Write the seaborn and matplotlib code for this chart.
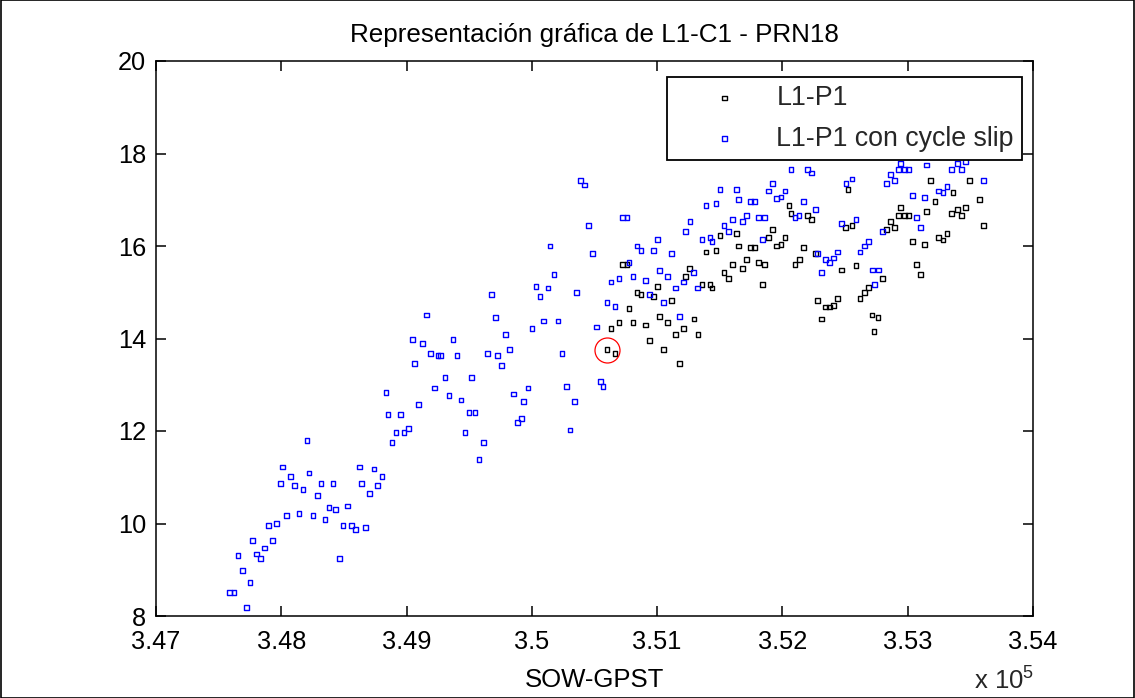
import matplotlib
matplotlib.use("Agg")
import matplotlib.pyplot as plt
import seaborn as sns
import pandas as pd
from matplotlib.ticker import FuncFormatter
from matplotlib.patches import Rectangle

# ---------------- data ----------------
x_black = [352052, 352068, 351633, 351922, 351502, 351891, 352020, 351989, 351954, 351390,
           351470, 351648, 351745, 351778, 350725, 350759, 352100, 351601, 351715, 351680,
           351810, 351859, 351259, 351228, 351533, 351569, 351358, 351422, 351438, 351843,
           351002, 350839, 350871, 350970, 351116, 350775, 351018, 351294, 350695, 350807,
           350906, 351084, 350631, 351212, 351149, 351326, 350938, 350600, 350663, 351052,
           351181,
           353183, 353493, 352524, 353362, 353218, 353572, 352199, 352231, 352944, 352925,
           352974, 353007, 353151, 353349, 353396, 353461, 353428, 353604, 352505, 352555,
           352862, 352830, 352896, 353039, 353135, 353247, 353281, 353314, 352167, 352265,
           352473, 352587, 353072, 353104, 352799, 352687, 352135, 352652, 352619, 352441,
           352281, 352345, 352378, 352409, 352313, 352715, 352763, 352731]
y_black = [16.88, 16.71, 16.27, 16.35, 16.22, 16.18, 16.18, 16.04, 16.00, 15.87,
           15.91, 16.00, 15.96, 15.96, 15.60, 15.60, 15.60, 15.60, 15.70, 15.52,
           15.65, 15.60, 15.52, 15.34, 15.43, 15.30, 15.17, 15.17, 15.09, 15.17,
           15.13, 15.00, 14.96, 14.91, 14.82, 14.64, 14.47, 14.42, 14.34, 14.34,
           14.29, 14.34, 14.21, 14.21, 14.08, 14.08, 13.95, 13.77, 13.68, 13.77,
           13.46,
           17.41, 17.41, 17.23, 17.15, 16.97, 17.01, 16.66, 16.57, 16.84, 16.66,
           16.66, 16.66, 16.75, 16.70, 16.79, 16.84, 16.66, 16.44, 16.40, 16.44,
           16.53, 16.35, 16.40, 16.09, 16.04, 16.18, 16.13, 16.27, 15.96, 15.83,
           15.48, 15.57, 15.60, 15.39, 15.30, 15.11, 15.70, 14.99, 14.86, 14.86,
           14.82, 14.68, 14.68, 14.72, 14.42, 14.51, 14.46, 14.16]

x_blue = [348205, 348012, 348221, 348075, 347995, 348107, 348173, 348317, 348413, 348289,
          348381, 348432, 348528, 348626, 348740, 348642, 348767, 348706, 348044, 348142,
          348253, 348349, 347897, 347963, 348493, 348559, 348594, 348674, 347770, 347931,
          347868, 347655, 347801, 347836, 348464, 347689, 347750, 347588, 347623, 347721,
          349160, 349709, 350095, 350209, 350001, 349788, 349046, 349127, 349371, 349823,
          349192, 349251, 349273, 349403, 349646, 349725, 350241, 349065, 349757, 349306,
          349518, 349224, 349969, 350276, 348836, 349339, 349434, 349855, 349097, 349935,
          350340, 349498, 349546, 348852, 348951, 349919, 349887, 349015, 348915, 348980,
          349466, 350304, 348884, 349613, 349578, 348804, 350390, 350421, 350454, 350145,
          350486, 350176, 350033, 350129, 350065, 350356, 349677, 352068, 351922, 351502,
          351633, 351891, 352020, 351989, 351954, 351648, 351745, 351778, 351390, 351470,
          352100, 350725, 350759, 351262, 351601, 351680, 351715, 351810, 351859, 351533,
          351228, 351569, 351422, 351358, 351438, 351843, 351002, 350839, 350871, 350970,
          351116, 350775, 351291, 351018, 351084, 350807, 350695, 350906, 350631, 351212,
          351324, 351149, 350938, 350600, 350663, 351052, 351181, 350518, 350549, 350568,
          352199, 352231, 352942, 352925, 352974, 353007, 353151, 353396, 353461, 353349,
          353428, 352862, 352830, 352896, 353607, 352508, 352555, 353039, 353135, 353247,
          353281, 353314, 352167, 352265, 352132, 353072, 353104, 352473, 352587, 352799,
          352687, 352652, 352619, 352441, 352345, 352378, 352409, 352313, 352718, 352767,
          352734, 352281]
y_blue = [11.79, 11.22, 11.09, 11.01, 10.87, 10.83, 10.74, 10.87, 10.87, 10.61,
          10.34, 10.31, 10.38, 11.22, 11.18, 10.87, 10.83, 10.65, 10.17, 10.21,
          10.17, 10.08, 9.95, 10.00, 9.95, 9.95, 9.87, 9.91, 9.64, 9.64,
          9.47, 9.30, 9.34, 9.25, 9.25, 8.99, 8.73, 8.50, 8.50, 8.19,
          14.51, 14.46, 14.38, 14.38, 14.21, 14.08, 13.98, 13.90, 13.98, 13.77,
          13.68, 13.64, 13.64, 13.64, 13.68, 13.64, 13.68, 13.46, 13.41, 13.15,
          13.15, 12.93, 12.93, 12.97, 12.84, 12.76, 12.67, 12.80, 12.58, 12.63,
          12.63, 12.40, 12.40, 12.36, 12.36, 12.27, 12.19, 12.06, 11.97, 11.97,
          11.97, 12.02, 11.75, 11.75, 11.39, 11.01, 17.41, 17.32, 16.44, 16.00,
          15.83, 15.39, 15.13, 15.09, 14.90, 14.99, 14.95, 17.66, 17.36, 17.23,
          17.23, 17.19, 17.19, 17.06, 17.02, 17.01, 16.97, 16.97, 16.88, 16.92,
          16.62, 16.61, 16.61, 16.53, 16.57, 16.53, 16.66, 16.61, 16.61, 16.44,
          16.31, 16.31, 16.18, 16.14, 16.09, 16.14, 16.14, 16.00, 15.91, 15.91,
          15.83, 15.65, 15.43, 15.47, 15.34, 15.34, 15.30, 15.26, 15.22, 15.22,
          15.09, 15.09, 14.96, 14.77, 14.69, 14.77, 14.47, 14.25, 13.07, 12.97,
          17.66, 17.58, 17.79, 17.66, 17.66, 17.66, 17.75, 17.79, 17.82, 17.66,
          17.66, 17.54, 17.36, 17.41, 17.41, 17.36, 17.45, 17.10, 17.05, 17.19,
          17.15, 17.28, 16.97, 16.79, 16.66, 16.61, 16.40, 16.48, 16.57, 16.31,
          16.09, 16.00, 15.87, 15.87, 15.70, 15.65, 15.74, 15.43, 15.48, 15.48,
          15.17, 15.83]

circle_x = [350600]
circle_y = [13.76]

labels = ["L1-P1", "L1-P1 con cycle slip"]
x_ticks = [347000, 348000, 349000, 350000, 351000, 352000, 353000, 354000]
y_ticks = [8, 10, 12, 14, 16, 18, 20]
title = "Representación gráfica de L1-C1 - PRN18"
xlabel = "SOW-GPST"

# ---------------- style ----------------
sns.set_style("white")
plt.rcParams["font.family"] = ["Liberation Sans", "DejaVu Sans"]
plt.rcParams["mathtext.fontset"] = "custom"
plt.rcParams["mathtext.rm"] = "Liberation Sans"
plt.rcParams["mathtext.it"] = "Liberation Sans"

W, H = 1135, 698
fig = plt.figure(figsize=(W / 100, H / 100), dpi=100)
fig.patch.set_facecolor("white")
ax = fig.add_axes([156 / W, 1 - 616 / H, (1033 - 156) / W, (616 - 61) / H])

df_k = pd.DataFrame({"x": x_black, "y": y_black})
df_b = pd.DataFrame({"x": x_blue, "y": y_blue})

sns.scatterplot(data=df_k, x="x", y="y", ax=ax, marker="s", s=12,
                color="black", facecolor="none", edgecolor="black",
                linewidth=1.0, label=labels[0], zorder=3)
sns.scatterplot(data=df_b, x="x", y="y", ax=ax, marker="s", s=12,
                color="#0000ff", facecolor="none", edgecolor="#0000ff",
                linewidth=1.0, label=labels[1], zorder=4)

ax.plot(circle_x, circle_y, marker="o", markersize=18, markerfacecolor="none",
        markeredgecolor="red", markeredgewidth=0.9, linestyle="none", zorder=5)

ax.set_xlim(x_ticks[0], x_ticks[-1])
ax.set_ylim(y_ticks[0], y_ticks[-1])
ax.set_xticks(x_ticks)
ax.set_yticks(y_ticks)
ax.xaxis.set_major_formatter(FuncFormatter(lambda v, p: f"{v / 1e5:g}"))
ax.yaxis.set_major_formatter(FuncFormatter(lambda v, p: f"{v:g}"))

for sp in ax.spines.values():
    sp.set_visible(True)
    sp.set_color("black")
    sp.set_linewidth(1.1)

ax.tick_params(axis="both", which="major", direction="in", length=7, width=1.1,
               color="black", labelcolor="black", labelsize=18.3,
               top=True, right=True, bottom=True, left=True)
ax.tick_params(axis="x", pad=10)
ax.tick_params(axis="y", pad=7)

ax.set_title(title, fontsize=18.7, pad=14, color="black")
ax.set_xlabel(xlabel, fontsize=18.5, labelpad=10, color="black")
ax.set_ylabel("")

leg = ax.legend(loc="upper right", bbox_to_anchor=((1022 - 156) / 877, (616 - 77) / 555),
                borderaxespad=0, fontsize=19.3, frameon=True, fancybox=False,
                borderpad=0.3, labelspacing=0.55, handlelength=3.7,
                handletextpad=0.1, scatterpoints=1, markerscale=1.0)
leg.get_frame().set_edgecolor("black")
leg.get_frame().set_linewidth(1.3)
leg.get_frame().set_facecolor("white")
leg.get_frame().set_alpha(1)

fig.text(1034 / W, 1 - 690 / H, r"x 10$^{5}$", ha="right", va="baseline", fontsize=18.5)

fig.patches.append(Rectangle((0.0005, 0.0005), 0.999, 0.999, transform=fig.transFigure,
                             fill=False, edgecolor="black", linewidth=1.2))

fig.savefig("out.png", dpi=100, facecolor="white")
